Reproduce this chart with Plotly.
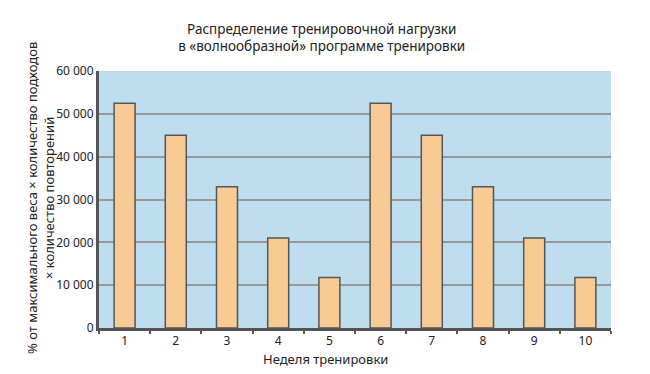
import plotly.graph_objects as go

weeks = ["1", "2", "3", "4", "5", "6", "7", "8", "9", "10"]
load = [52500, 45000, 33000, 21000, 11800, 52500, 45000, 33000, 21000, 11800]
y_tickvals = [0, 10000, 20000, 30000, 40000, 50000, 60000]
y_ticktext = ["0", "10 000", "20 000", "30 000", "40 000", "50 000", "60 000"]

title_text = "Распределение тренировочной нагрузки<br>в «волнообразной» программе тренировки"
y_title = "% от максимального веса × количество подходов<br>× количество повторений"
x_title = "Неделя тренировки"

FONT = "Noto Sans"

fig = go.Figure()
fig.add_trace(go.Bar(
    x=weeks, y=load,
    width=0.41,
    marker=dict(color="#F8CB94", line=dict(color="#555555", width=1.5)),
))

fig.update_layout(
    width=650, height=374,
    margin=dict(l=99, r=39, t=71, b=46, autoexpand=False),
    paper_bgcolor="white",
    plot_bgcolor="#BEDEF0",
    showlegend=False,
    font=dict(family=FONT, size=12, color="#222222"),
    title=dict(text=title_text, x=0.495, xanchor="center", xref="container", y=0.91, yanchor="middle",
               yref="container", automargin=False,
               font=dict(family=FONT, size=13.5, color="#222222")),
    xaxis=dict(
        type="category",
        tickson="boundaries",
        ticks="outside", ticklen=3, tickwidth=2, tickcolor="#555555",
        showline=True, linewidth=3, linecolor="#555555",
        showgrid=False, automargin=False,
        tickfont=dict(size=12),
    ),
    yaxis=dict(
        range=[0, 60000],
        tickvals=y_tickvals, ticktext=y_ticktext,
        showline=True, linewidth=3, linecolor="#555555",
        showgrid=True, gridcolor="#999999", gridwidth=1.5,
        ticks="", ticklen=0,
        zeroline=False, automargin=False,
        tickfont=dict(size=12),
    ),
    annotations=[
        dict(
            text=x_title, xref="paper", yref="paper", x=(325 - 99) / 512, y=-0.12,
            xanchor="center", yanchor="middle", showarrow=False,
            font=dict(family=FONT, size=13, color="#222222"),
        ),
        dict(
            text=y_title, xref="paper", yref="paper", x=(40 - 99) / 512, y=(328 - 198) / 257,
            xanchor="center", yanchor="middle", textangle=-90, showarrow=False,
            font=dict(family=FONT, size=13, color="#222222"),
        ),
    ],
)

fig.write_html("out.html", post_script="document.body.style.margin='0px';",
               config={"displayModeBar": False})
